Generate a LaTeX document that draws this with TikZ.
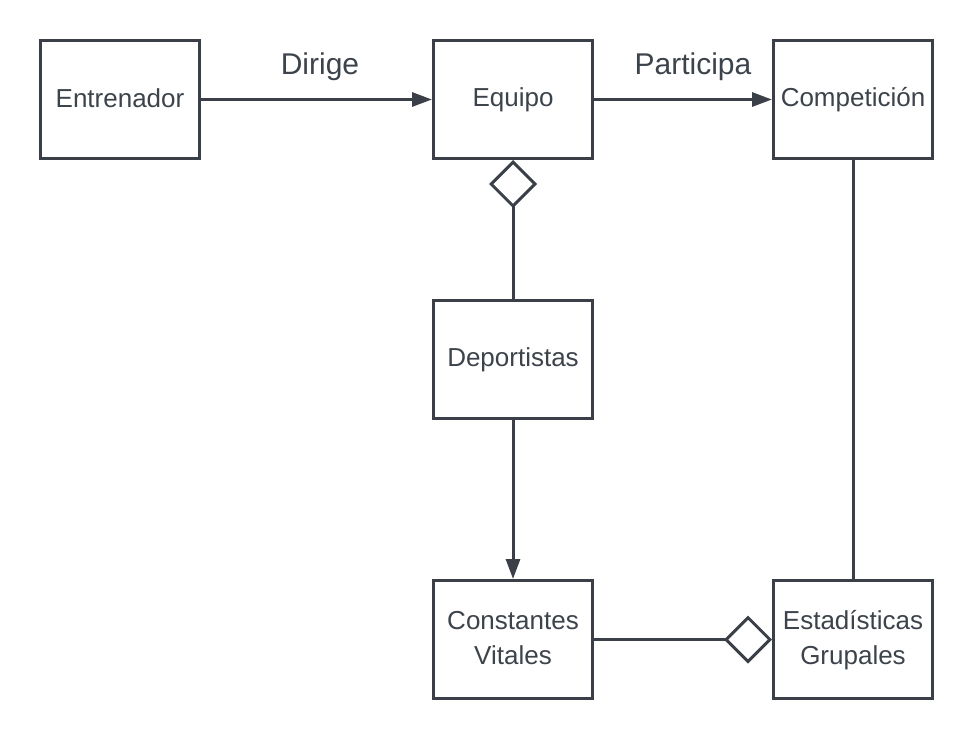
\documentclass[tikz,border=0pt]{standalone}
\usepackage{fontspec}
\setmainfont{Liberation Sans}
\usetikzlibrary{arrows.meta}
\definecolor{ink}{HTML}{3B4048}
\definecolor{txt}{HTML}{3D434B}
\newcommand{\twoline}[2]{\raisebox{2pt}{\begin{tabular}{@{}c@{}}#1\\#2\end{tabular}}}
\tikzset{
  box/.style={draw=ink, line width=3pt, fill=white, minimum width=159pt, minimum height=118pt,
    inner sep=0pt, align=center, text=txt, font=\fontsize{26}{35}\selectfont},
  lbl/.style={text=txt, font=\fontsize{30}{36}\selectfont, inner sep=0pt},
  conn/.style={draw=ink, line width=3pt},
  arr/.style={conn, -{Triangle[length=20pt,width=14pt]}},
  agg/.style={conn, -{Diamond[open,length=48pt,width=48pt,fill=white]}}
}
\begin{document}
\begin{tikzpicture}[x=1pt,y=-1pt]
\useasboundingbox (0,0) rectangle (973,740);
\node[box] (ent) at (120,99.5) {\raisebox{2pt}{Entrenador}};
\node[box] (equ) at (513,99.5) {\raisebox{2pt}{Equipo}};
\node[box] (com) at (853,99.5) {\raisebox{2pt}{Competición}};
\node[box] (dep) at (513,359.5) {\raisebox{2pt}{Deportistas}};
\node[box] (con) at (513,639.5) {\twoline{Constantes}{Vitales}};
\node[box] (est) at (853,639.5) {\twoline{Estadísticas}{Grupales}};
\draw[arr] (ent.east) -- (equ.west);
\draw[arr] (equ.east) -- (com.west);
\draw[arr] (dep.south) -- (con.north);
\draw[agg] (dep.north) -- (equ.south);
\draw[agg] (con.east) -- (est.west);
\draw[conn] (com.south) -- (est.north);
\node[lbl] (dirige) at (320,67) {Dirige};
\node[lbl] (part) at (693,67) {Participa};
\end{tikzpicture}
\end{document}
